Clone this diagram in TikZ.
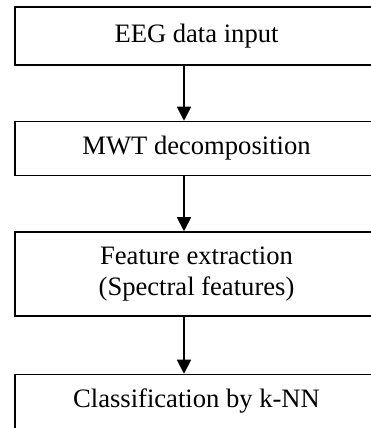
\documentclass[tikz,border=0pt]{standalone}
\usepackage{fontspec}
\setmainfont{Liberation Serif}
\usetikzlibrary{positioning,arrows.meta}

\begin{document}
\begin{tikzpicture}[
        x=1pt, y=1pt,
        node distance=55pt,
        every node/.style={font=\fontsize{26.6}{31}\selectfont},
        stepbox/.style={draw, line width=1.5pt, minimum width=363pt, align=center},
        flow/.style={draw, line width=1.8pt, -{Triangle[width=14pt,length=14pt]}}
        ]
        \useasboundingbox (0,0) rectangle (371,428);
        \clip (0,0) rectangle (371,428);

        % Boxes
        \node[stepbox, minimum height=58pt] (eeg) at (196.5,392) {EEG data input};
        \node[stepbox, minimum height=54pt, below=of eeg] (mwt) {MWT decomposition};
        \node[stepbox, minimum height=84pt, below=of mwt] (feat) {Feature extraction\\(Spectral features)};
        \node[stepbox, inner ysep=0pt, text height=33pt, text depth=37pt, below=57pt of feat] (knn) {Classification by k-NN};

        % Arrows
        \draw[flow] ([xshift=-12.5pt]eeg.south) -- ([xshift=-12.5pt]mwt.north);
        \draw[flow] ([xshift=-12.5pt]mwt.south) -- ([xshift=-12.5pt]feat.north);
        \draw[flow] ([xshift=-12.5pt]feat.south) -- ([xshift=-12.5pt]knn.north);
\end{tikzpicture}
\end{document}
